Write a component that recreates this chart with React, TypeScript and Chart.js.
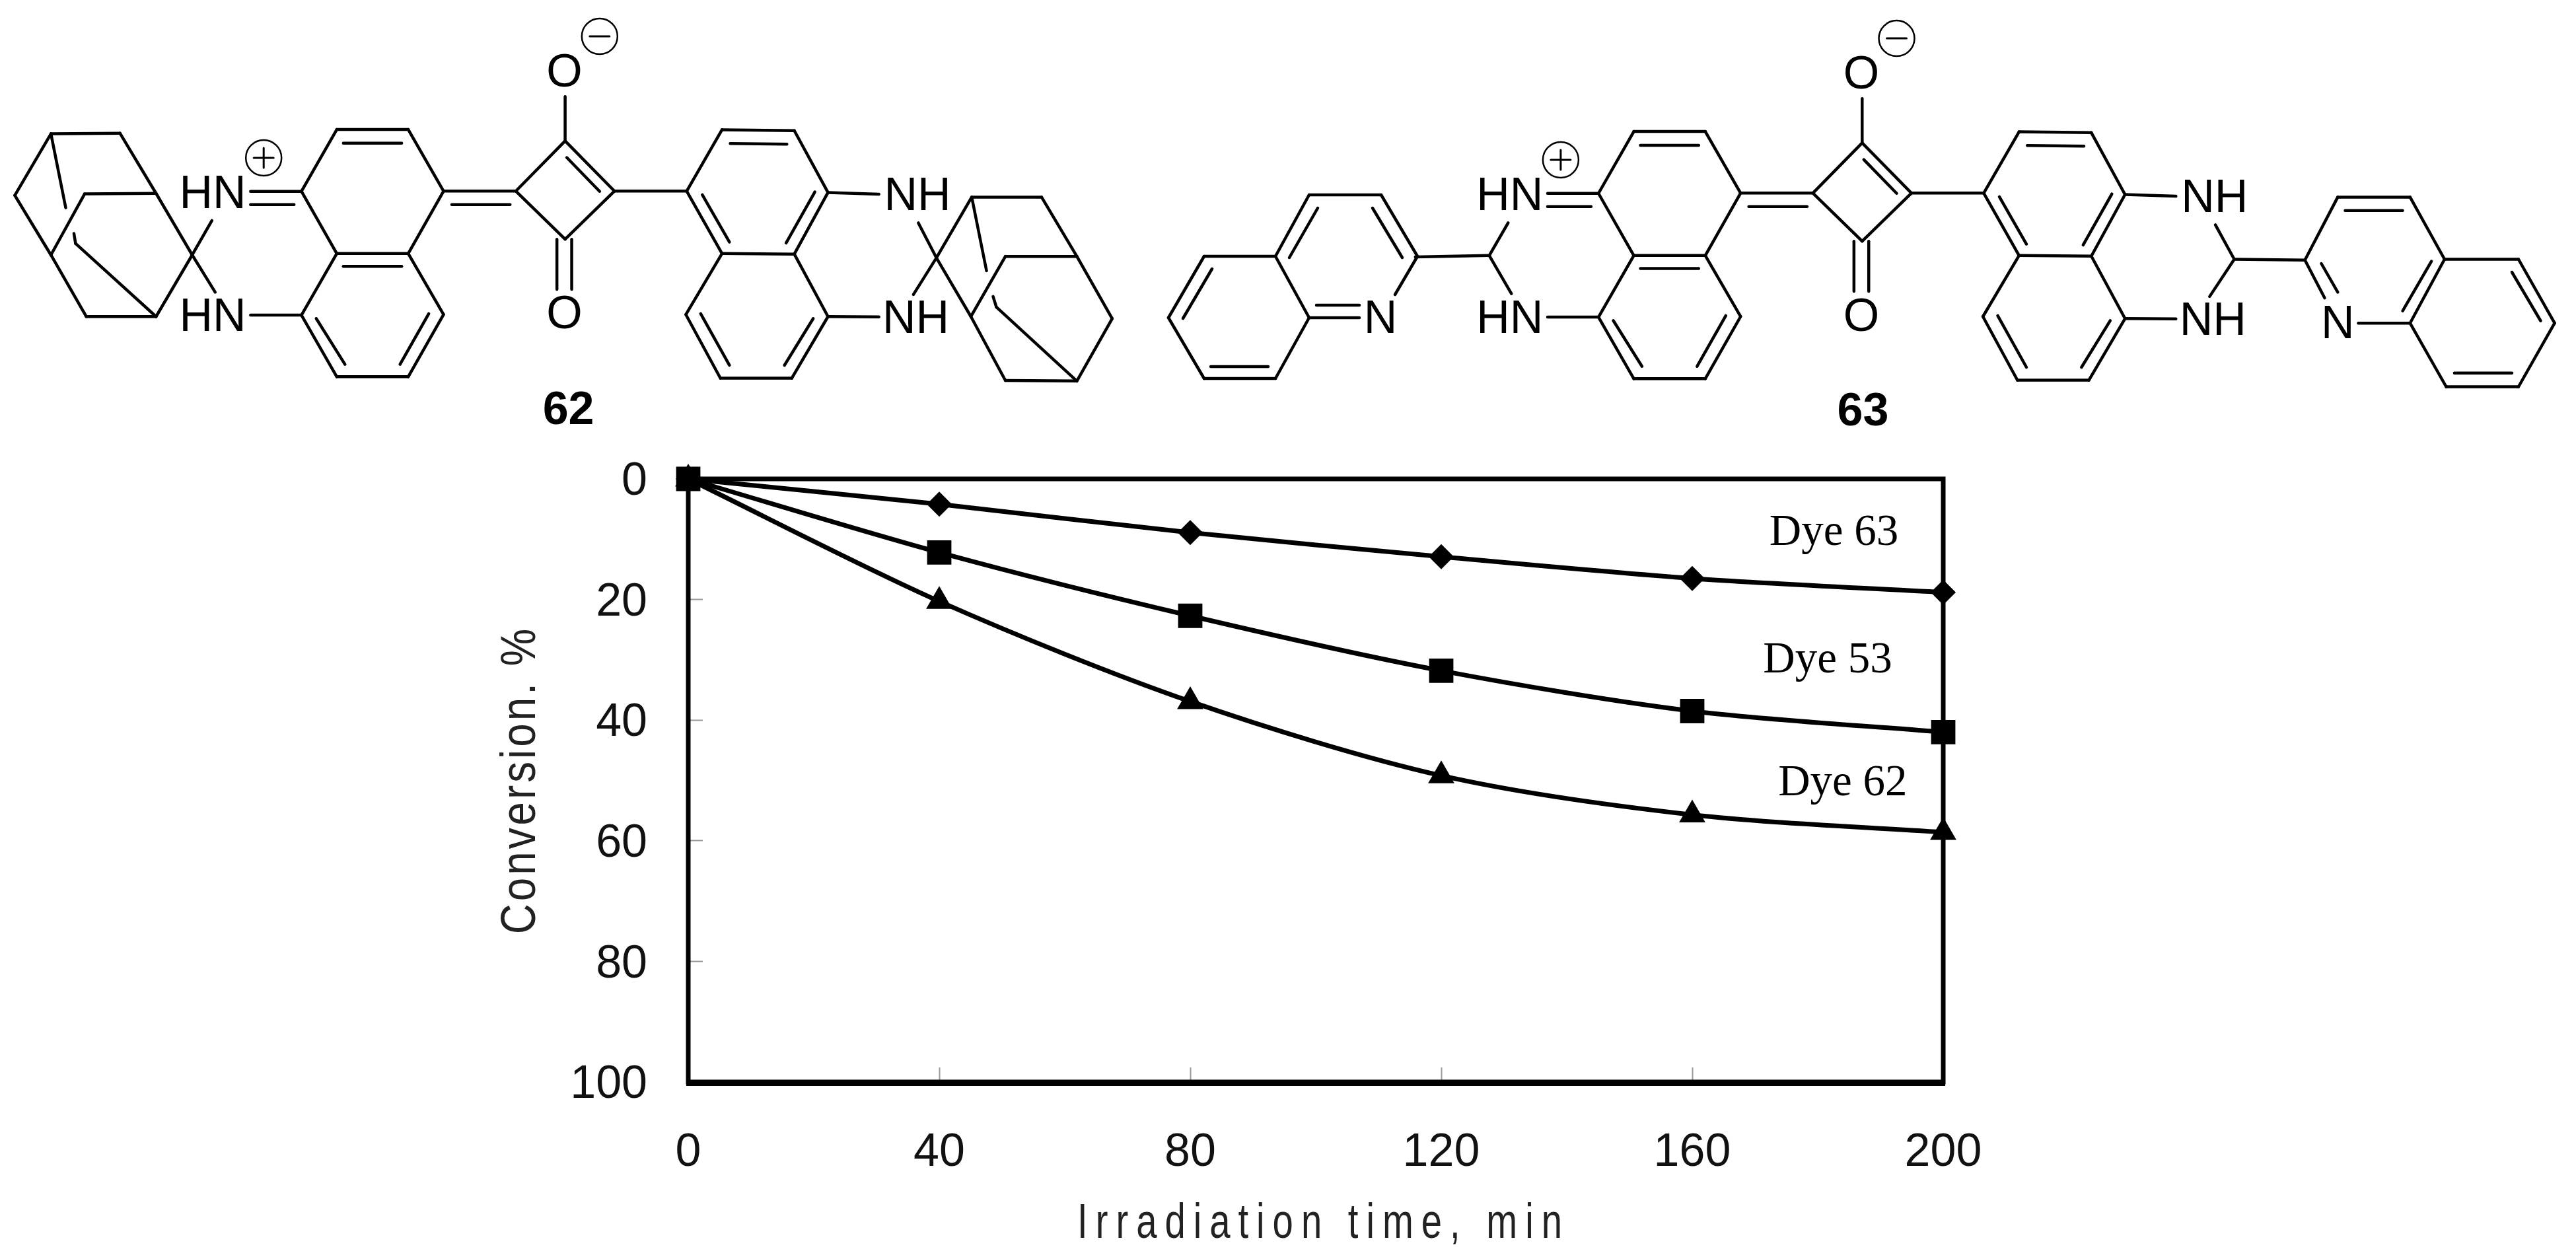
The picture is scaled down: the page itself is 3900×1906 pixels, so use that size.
import React, { useEffect, useRef } from "react";
import { Chart, registerables } from "chart.js";

Chart.register(...registerables);

// ---- chart values ----
const timeMin = [0, 40, 80, 120, 160, 200];
const dye63 = [0, 4.2, 8.9, 12.9, 16.5, 18.8];
const dye53 = [0, 12.2, 22.7, 31.8, 38.5, 42];
const dye62 = [0, 20.3, 36.9, 49.2, 55.7, 58.6];
const seriesNames = ["Dye 63", "Dye 53", "Dye 62"];
const labelTimes = [172.3, 171.3, 173.7];
const labelConversions = [10.95, 32.1, 52.5];
const xTitle = "Irradiation time, min";
const yTitle = "Conversion. %";

// ---- chemical structure drawings (above the chart), in the units of their own sketch ----
type Seg = number[];
const SX = 1.2436;
const SY = 0.4337;

const coreBonds: Seg[] = [
  [305, 668, 367, 668], [305, 714, 358, 714], [305, 1100, 367, 1100],
  [367, 668, 410, 452], [410, 452, 497, 452], [418, 500, 489, 500], [497, 452, 540, 667],
  [540, 667, 497, 885], [497, 885, 410, 885], [418, 930, 489, 930], [410, 885, 367, 668],
  [410, 885, 367, 1100], [367, 1100, 410, 1315], [410, 1315, 497, 1315], [497, 1315, 540, 1098],
  [540, 1098, 497, 885], [385, 1112, 420, 1272], [522, 1095, 487, 1272],
  [540, 667, 628, 667], [550, 714, 621, 714],
  [628, 667, 688, 492], [688, 492, 748, 667], [748, 667, 688, 835], [688, 835, 628, 667],
  [690, 550, 730, 668], [688, 492, 688, 337], [678, 835, 678, 1010], [696, 835, 696, 1010],
  [748, 667, 836, 667],
  [836, 667, 879, 453], [879, 453, 967, 456], [889, 501, 958, 503], [967, 456, 1008, 672],
  [1008, 672, 967, 887], [879, 885, 967, 887], [836, 667, 879, 885],
  [855, 680, 888, 845], [992, 670, 957, 848],
  [879, 885, 835, 1098], [967, 887, 1008, 1105], [835, 1098, 877, 1320], [877, 1320, 964, 1320],
  [964, 1320, 1008, 1105], [853, 1095, 888, 1275], [990, 1112, 955, 1275],
  [1008, 672, 1070, 678], [1008, 1105, 1070, 1106],
];

const adamantaneBonds: Seg[] = [
  [62, 467, 146, 465], [146, 465, 190, 675], [190, 675, 234, 890], [234, 890, 190, 1105],
  [62, 467, 18, 682], [18, 682, 62, 890], [62, 890, 105, 1105], [105, 1105, 190, 1105],
  [62, 467, 80, 725], [103, 677, 190, 675], [103, 677, 62, 890], [90, 815, 92, 850], [92, 850, 190, 1105],
  [258, 770, 234, 890], [234, 890, 262, 1020],
  [1118, 778, 1140, 900], [1140, 900, 1112, 1028],
  [1183, 688, 1268, 688], [1268, 688, 1311, 895], [1311, 895, 1354, 1112], [1354, 1112, 1311, 1330],
  [1311, 1330, 1224, 1328], [1224, 1328, 1182, 1105], [1182, 1105, 1140, 900], [1140, 900, 1183, 688],
  [1183, 688, 1201, 945], [1224, 895, 1311, 895], [1224, 895, 1182, 1105], [1209, 1035, 1213, 1072],
  [1213, 1072, 1311, 1330],
];

const rightDyeBonds: Seg[] = [
  [268, 778, 245, 892], [245, 892, 272, 1025], [155, 897, 245, 892],
  [1129, 785, 1152, 905], [1152, 905, 1122, 1035], [1152, 905, 1238, 908],
  [1238, 908, 1278, 688], [1278, 688, 1366, 688], [1366, 688, 1408, 905], [1408, 905, 1366, 1128],
  [1366, 1128, 1303, 1128], [1238, 908, 1262, 1040], [1258, 920, 1278, 1020], [1287, 735, 1357, 735],
  [1392, 912, 1357, 1085], [1408, 905, 1498, 905], [1498, 905, 1542, 1128], [1542, 1128, 1498, 1350],
  [1498, 1350, 1410, 1350], [1410, 1350, 1366, 1128], [1490, 950, 1525, 1120], [1420, 1302, 1490, 1302],
];

// left quinoline of dye 63, in page pixels
const quinolineBonds: Seg[] = [
  [1769, 481, 1823, 388], [1823, 388, 1931, 388], [1931, 388, 1982, 295], [1982, 295, 2091, 295],
  [2091, 295, 2146, 388], [2146, 388, 2112, 446], [1931, 388, 1982, 481], [1982, 481, 1931, 573],
  [1931, 573, 1823, 573], [1823, 573, 1769, 481], [1983, 481, 2058, 481], [1993, 462, 2058, 462],
  [1995, 315, 1952, 390], [2078, 315, 2123, 390], [1835, 407, 1791, 482], [1833, 555, 1920, 555],
];

const coreLabels: [string, number, number][] = [
  ["O", 687, 252], ["O", 687, 1098], ["HN", 259, 678], ["HN", 259, 1105], ["NH", 1117, 683], ["NH", 1115, 1112],
];

const structures = [
  { name: "62", dx: 0, dy: 0, nameAt: [692, 1435], extra: adamantaneBonds.slice(0) },
  { name: "63", dx: 11, dy: 7, nameAt: [700, 1440], extra: [] as Seg[] },
];

function drawStructures(ctx: CanvasRenderingContext2D) {
  ctx.save();
  ctx.strokeStyle = "#000";
  ctx.fillStyle = "#000";
  ctx.lineCap = "round";
  const line = (s: Seg, ox: number, oy: number, sx: number, sy: number) => {
    ctx.beginPath();
    ctx.moveTo(ox + s[0] * sx, oy + s[1] * sy);
    ctx.lineTo(ox + s[2] * sx, oy + s[3] * sy);
    ctx.stroke();
  };
  structures.forEach((st, i) => {
    const ox = (i === 0 ? 0 : 1950 + st.dx * SX);
    const oy = st.dy * SY;
    ctx.lineWidth = 4.5;
    coreBonds.forEach((s) => line(s, ox, oy, SX, SY));
    st.extra.forEach((s) => line(s, ox, oy, SX, SY));
    ctx.font = '70px "Liberation Sans"';
    ctx.textAlign = "center";
    ctx.textBaseline = "middle";
    coreLabels.forEach(([t, x, y]) => ctx.fillText(t, ox + x * SX, oy + y * SY + 2));
    // charges
    ctx.lineWidth = 2.5;
    const minus = [ox + 730 * SX, oy + 127 * SY];
    const plus = [ox + 321 * SX, oy + 551 * SY];
    [minus, plus].forEach((c) => {
      ctx.beginPath();
      ctx.arc(c[0], c[1], 27, 0, Math.PI * 2);
      ctx.stroke();
    });
    ctx.lineWidth = 3;
    ctx.beginPath();
    ctx.moveTo(minus[0] - 15, minus[1]);
    ctx.lineTo(minus[0] + 15, minus[1]);
    ctx.moveTo(plus[0] - 15, plus[1]);
    ctx.lineTo(plus[0] + 15, plus[1]);
    ctx.moveTo(plus[0], plus[1] - 15);
    ctx.lineTo(plus[0], plus[1] + 15);
    ctx.stroke();
    ctx.font = 'bold 70px "Liberation Sans"';
    ctx.fillText(st.name, 1950 * i + st.nameAt[0] * SX, st.nameAt[1] * SY);
  });
  // dye 63 substituents
  ctx.lineWidth = 4.5;
  rightDyeBonds.forEach((s) => line(s, 1950, 0, SX, SY));
  quinolineBonds.forEach((s) => line(s, 0, 0, 1, 1));
  ctx.font = '70px "Liberation Sans"';
  ctx.fillText("N", 2090, 485);
  ctx.fillText("N", 1950 + 1278 * SX, 1132 * SY + 2);
  ctx.restore();
}

const framePlugin = {
  id: "frame",
  beforeDatasetsDraw(chart: any) {
    const { ctx, chartArea: a } = chart;
    ctx.save();
    ctx.strokeStyle = "#000";
    ctx.lineWidth = 7;
    ctx.strokeRect(a.left, a.top, a.right - a.left, a.bottom - a.top);
    ctx.fillStyle = "#000";
    ctx.fillRect(a.left - 3, a.bottom - 3, a.right - a.left + 6, 9);
    ctx.restore();
  },
  afterDraw(chart: any) {
    const { ctx, scales } = chart;
    ctx.save();
    ctx.fillStyle = "#000";
    // series labels
    ctx.font = '67px "Liberation Serif"';
    ctx.textAlign = "left";
    ctx.textBaseline = "alphabetic";
    seriesNames.forEach((n, i) => {
      ctx.fillText(n, scales.x.getPixelForValue(labelTimes[i]), scales.y.getPixelForValue(labelConversions[i]));
    });
    // axis titles: stretched, widely spaced lettering
    ctx.fillStyle = "#222";
    ctx.font = '75px "Liberation Sans"';
    ctx.textAlign = "center";
    ctx.save();
    ctx.translate((scales.x.left + scales.x.right) / 2 + 12, 1874);
    ctx.scale(0.75, 1);
    (ctx as any).letterSpacing = "16px";
    ctx.fillText(scales.x.options.title.text, 0, 0);
    ctx.restore();
    ctx.save();
    ctx.translate(810, 1181);
    ctx.rotate(-Math.PI / 2);
    ctx.scale(0.85, 1);
    (ctx as any).letterSpacing = "4.7px";
    ctx.fillText(scales.y.options.title.text, 0, 0);
    ctx.restore();
    ctx.restore();
    drawStructures(ctx);
  },
};

export default function App() {
  const ref = useRef<HTMLCanvasElement>(null);
  useEffect(() => {
    if (!ref.current) return;
    const common = {
      borderColor: "#000",
      backgroundColor: "#000",
      pointBackgroundColor: "#000",
      pointBorderColor: "#000",
      pointBorderWidth: 0,
      borderWidth: 7,
      tension: 0.3,
      clip: false as const,
      fill: false,
    };
    const chart = new Chart(ref.current, {
      type: "line",
      data: {
        datasets: [
          { ...common, label: seriesNames[0], data: timeMin.map((x, i) => ({ x, y: dye63[i] })), pointStyle: "rectRot", pointRadius: 19 },
          { ...common, label: seriesNames[1], data: timeMin.map((x, i) => ({ x, y: dye53[i] })), pointStyle: "rect", pointRadius: 26 },
          { ...common, label: seriesNames[2], data: timeMin.map((x, i) => ({ x, y: dye62[i] })), pointStyle: "triangle", pointRadius: 23 },
        ],
      },
      options: {
        animation: false,
        responsive: false,
        devicePixelRatio: 1,
        layout: { padding: { left: 792, right: 958, top: 725, bottom: 0 } },
        plugins: { legend: { display: false }, tooltip: { enabled: false }, title: { display: false } },
        scales: {
          x: {
            type: "linear",
            min: 0,
            max: 200,
            afterFit: (s: any) => { s.height = 268; },
            border: { display: false },
            grid: { drawOnChartArea: false, tickLength: -22, tickWidth: 2, tickColor: "#999" },
            ticks: { stepSize: 40, padding: 88, color: "#111", maxRotation: 0, font: { family: "Liberation Sans", size: 70 } },
            title: { display: false, text: xTitle },
          },
          y: {
            type: "linear",
            reverse: true,
            min: 0,
            max: 100,
            afterFit: (s: any) => { s.width = 250; },
            border: { display: false },
            grid: { drawOnChartArea: false, tickLength: -22, tickWidth: 2, tickColor: "#999" },
            ticks: { stepSize: 20, padding: 84, labelOffset: 5, color: "#111", font: { family: "Liberation Sans", size: 70 } },
            title: { display: false, text: yTitle },
          },
        },
      },
      plugins: [framePlugin],
    } as any);
    return () => chart.destroy();
  }, []);
  return (
    <canvas
      ref={ref}
      width={3900}
      height={1906}
      style={{ position: "fixed", left: 0, top: 0, width: 3900, height: 1906, display: "block", background: "#fff" }}
    />
  );
}
